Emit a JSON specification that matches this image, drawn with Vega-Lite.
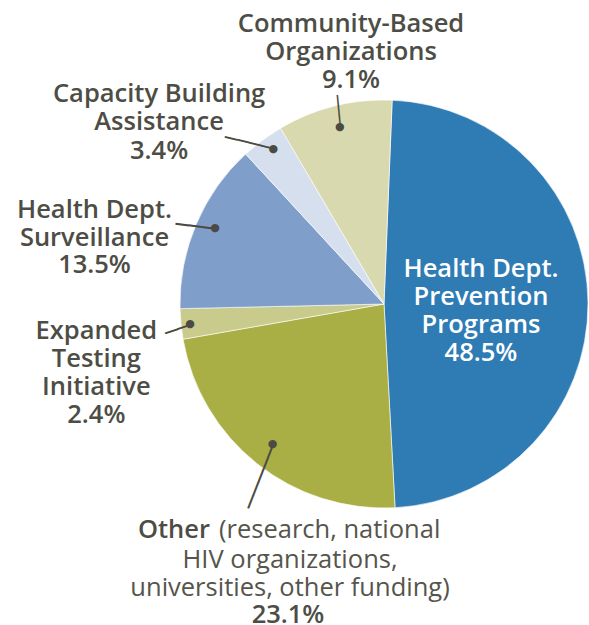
{
  "$schema": "https://vega.github.io/schema/vega-lite/v6.json",
  "width": 408,
  "height": 408,
  "autosize": {"type": "none"},
  "padding": {"left": 180, "top": 100, "right": 1, "bottom": 117},
  "background": "#ffffff",
  "config": {"view": {"stroke": null}},
  "data": {
    "values": [
      {"key": "Health Dept. Prevention Programs", "share": 48.5, "rank": 1},
      {"key": "Other", "share": 23.1, "rank": 2},
      {"key": "Expanded Testing Initiative", "share": 2.4, "rank": 3},
      {"key": "Health Dept. Surveillance", "share": 13.5, "rank": 4},
      {"key": "Capacity Building Assistance", "share": 3.4, "rank": 5},
      {"key": "Community-Based Organizations", "share": 9.1, "rank": 6}
    ]
  },
  "encoding": {
    "theta": {"field": "share", "type": "quantitative", "stack": true, "scale": {"range": [0.0401, 6.3233], "nice": false, "zero": true}},
    "order": {"field": "rank", "type": "quantitative"},
    "detail": {"field": "key", "type": "nominal"}
  },
  "layer": [
    {
      "mark": {"type": "arc", "outerRadius": 204, "stroke": "#ffffff", "strokeWidth": 0.6},
      "encoding": {
        "color": {
          "field": "key", "type": "nominal", "legend": null,
          "scale": {
            "domain": ["Health Dept. Prevention Programs", "Other", "Expanded Testing Initiative", "Health Dept. Surveillance", "Capacity Building Assistance", "Community-Based Organizations"],
            "range": ["#2f7cb5", "#a9af45", "#c9cb8c", "#7f9fca", "#d6dfee", "#d9d9b0"]
          }
        }
      }
    },
    {
      "mark": {"type": "text", "radius": 100, "dx": -3, "dy": -26.6, "align": "center", "baseline": "alphabetic", "font": "Open Sans", "fontWeight": 600, "fontSize": 25.5, "lineHeight": 28, "color": "#ffffff"},
      "encoding": {"text": {"condition": {"test": "datum.key === 'Health Dept. Prevention Programs'", "value": ["Health Dept.", "Prevention", "Programs", "48.5%"]}, "value": ""}}
    },
    {
      "mark": {"type": "text", "radius": 182, "dx": 0, "dy": 0, "align": "center", "baseline": "middle", "font": "DejaVu Sans", "fontSize": 11, "color": "#4b4b43"},
      "encoding": {"text": {"condition": {"test": "datum.key === 'Community-Based Organizations'", "value": "●"}, "value": ""}}
    },
    {
      "mark": {"type": "text", "radius": 182, "angle": 84.6, "dx": -16.5, "dy": 0.4, "align": "center", "baseline": "middle", "font": "DejaVu Sans Mono", "fontSize": 17.7, "color": "#4b4b43"},
      "encoding": {"text": {"condition": {"test": "datum.key === 'Community-Based Organizations'", "value": "───"}, "value": ""}}
    },
    {
      "mark": {"type": "text", "radius": 182, "dx": 11.3, "dy": -95.8, "align": "center", "baseline": "alphabetic", "font": "Open Sans", "fontWeight": 600, "fontSize": 25.5, "lineHeight": 28, "color": "#4d4d45"},
      "encoding": {"text": {"condition": {"test": "datum.key === 'Community-Based Organizations'", "value": ["Community-Based", "Organizations", "9.1%"]}, "value": ""}}
    },
    {
      "mark": {"type": "text", "radius": 190, "dx": 2.6, "dy": -2.2, "align": "center", "baseline": "middle", "font": "DejaVu Sans", "fontSize": 11, "color": "#4b4b43"},
      "encoding": {"text": {"condition": {"test": "datum.key === 'Capacity Building Assistance'", "value": "●"}, "value": ""}}
    },
    {
      "mark": {"type": "text", "radius": 190, "angle": 14.0, "dx": -23.1, "dy": -2.1, "align": "center", "baseline": "middle", "font": "DejaVu Sans Mono", "fontSize": 20.6, "color": "#4b4b43"},
      "encoding": {"text": {"condition": {"test": "datum.key === 'Capacity Building Assistance'", "value": "────"}, "value": ""}}
    },
    {
      "mark": {"type": "text", "radius": 190, "dx": -111.7, "dy": -49.8, "align": "center", "baseline": "alphabetic", "font": "Open Sans", "fontWeight": 600, "fontSize": 25.5, "lineHeight": 28.5, "color": "#4d4d45"},
      "encoding": {"text": {"condition": {"test": "datum.key === 'Capacity Building Assistance'", "value": ["Capacity Building", "Assistance", "3.4%"]}, "value": ""}}
    },
    {
      "mark": {"type": "text", "radius": 185, "dx": 1.3, "dy": -3.4, "align": "center", "baseline": "middle", "font": "DejaVu Sans", "fontSize": 11, "color": "#4b4b43"},
      "encoding": {"text": {"condition": {"test": "datum.key === 'Health Dept. Surveillance'", "value": "●"}, "value": ""}}
    },
    {
      "mark": {"type": "text", "radius": 185, "angle": 7.25, "dx": -18.9, "dy": -2.6, "align": "center", "baseline": "middle", "font": "DejaVu Sans Mono", "fontSize": 21.9, "color": "#4b4b43"},
      "encoding": {"text": {"condition": {"test": "datum.key === 'Health Dept. Surveillance'", "value": "───"}, "value": ""}}
    },
    {
      "mark": {"type": "text", "radius": 185, "dx": -119.2, "dy": -13.4, "align": "center", "baseline": "alphabetic", "font": "Open Sans", "fontWeight": 600, "fontSize": 25.5, "lineHeight": 27.5, "color": "#4d4d45"},
      "encoding": {"text": {"condition": {"test": "datum.key === 'Health Dept. Surveillance'", "value": ["Health Dept.", "Surveillance", "13.5%"]}, "value": ""}}
    },
    {
      "mark": {"type": "text", "radius": 195, "dx": 0.1, "dy": 1.3, "align": "center", "baseline": "middle", "font": "DejaVu Sans", "fontSize": 11, "color": "#4b4b43"},
      "encoding": {"text": {"condition": {"test": "datum.key === 'Expanded Testing Initiative'", "value": "●"}, "value": ""}}
    },
    {
      "mark": {"type": "text", "radius": 195, "angle": -18.6, "dx": -13.5, "dy": 2.3, "align": "center", "baseline": "middle", "font": "DejaVu Sans Mono", "fontSize": 21.9, "color": "#4b4b43"},
      "encoding": {"text": {"condition": {"test": "datum.key === 'Expanded Testing Initiative'", "value": "──"}, "value": ""}}
    },
    {
      "mark": {"type": "text", "radius": 195, "dx": -93.6, "dy": 16.3, "align": "center", "baseline": "alphabetic", "font": "Open Sans", "fontWeight": 600, "fontSize": 25.5, "lineHeight": 28, "color": "#4d4d45"},
      "encoding": {"text": {"condition": {"test": "datum.key === 'Expanded Testing Initiative'", "value": ["Expanded", "Testing", "Initiative", "2.4%"]}, "value": ""}}
    },
    {
      "mark": {"type": "text", "radius": 179, "dx": 0, "dy": 0, "align": "center", "baseline": "middle", "font": "DejaVu Sans", "fontSize": 11, "color": "#4b4b43"},
      "encoding": {"text": {"condition": {"test": "datum.key === 'Other'", "value": "●"}, "value": ""}}
    },
    {
      "mark": {"type": "text", "radius": 179, "angle": -68.66, "dx": -34.2, "dy": 1.4, "align": "center", "baseline": "middle", "font": "DejaVu Sans Mono", "fontSize": 22.8, "color": "#4b4b43"},
      "encoding": {"text": {"condition": {"test": "datum.key === 'Other'", "value": "─────"}, "value": ""}}
    },
    {
      "mark": {"type": "text", "radius": 179, "dx": -62.6, "dy": 94.2, "align": "right", "baseline": "alphabetic", "font": "Open Sans", "fontWeight": 600, "fontSize": 25.5, "color": "#4d4d45"},
      "encoding": {"text": {"condition": {"test": "datum.key === 'Other'", "value": "Other"}, "value": ""}}
    },
    {
      "mark": {"type": "text", "radius": 179, "dx": -53.6, "dy": 94.2, "align": "left", "baseline": "alphabetic", "font": "Open Sans", "fontWeight": "normal", "fontSize": 25.5, "color": "#55554c"},
      "encoding": {"text": {"condition": {"test": "datum.key === 'Other'", "value": "(research, national"}, "value": ""}}
    },
    {
      "mark": {"type": "text", "radius": 179, "dx": 17.4, "dy": 124.2, "align": "center", "baseline": "alphabetic", "font": "Open Sans", "fontWeight": "normal", "fontSize": 25.5, "lineHeight": 28, "color": "#55554c"},
      "encoding": {"text": {"condition": {"test": "datum.key === 'Other'", "value": ["HIV organizations,", "universities, other funding)"]}, "value": ""}}
    },
    {
      "mark": {"type": "text", "radius": 179, "dx": 15.4, "dy": 178.6, "align": "center", "baseline": "alphabetic", "font": "Open Sans", "fontWeight": 600, "fontSize": 25.5, "color": "#4d4d45"},
      "encoding": {"text": {"condition": {"test": "datum.key === 'Other'", "value": "23.1%"}, "value": ""}}
    }
  ]
}
